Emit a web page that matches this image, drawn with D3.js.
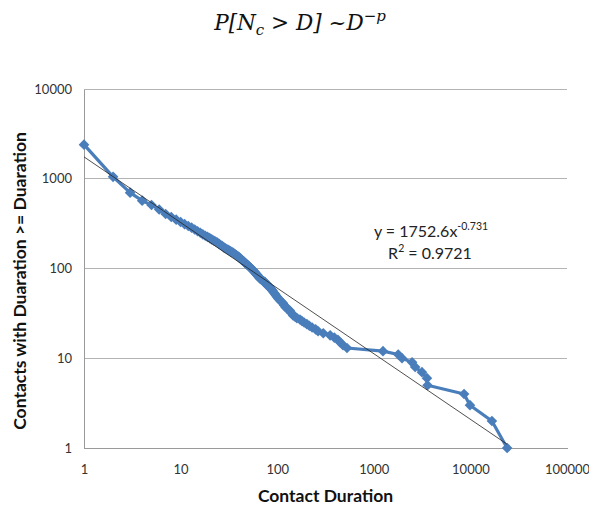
<!DOCTYPE html>
<html>
<head>
<meta charset="utf-8">
<script src="https://cdn.jsdelivr.net/npm/d3@7"></script>
<style>
  html, body { margin: 0; padding: 0; background: #fff; }
  svg { display: block; }
</style>
</head>
<body>
<svg id="chart" width="589" height="512"></svg>
<script>
// ---- data ----
const durations = [1, 2, 3, 4, 5, 6, 7, 8, 9, 10, 11, 12, 13, 14, 15, 16, 17, 18, 19, 20,
  21, 22, 23, 24, 25, 26, 27, 28, 29, 30, 31, 32, 33, 34, 35, 36, 37, 38, 39, 40,
  41, 42, 43, 44, 45, 46, 47, 48, 49, 50, 51, 52, 53, 54, 55, 56, 57, 58, 59, 60,
  61, 62, 63, 64, 65, 66, 67, 68, 69, 70, 72, 74, 75, 77, 78, 80, 82, 84, 86, 88,
  90, 92, 95, 97, 100, 103, 107, 110, 115, 118, 122, 126, 130, 135, 140, 146, 153, 160,
  172, 180, 190, 203, 215, 230, 250, 265, 300, 353, 390, 425, 450, 480, 528,
  1245, 1790, 1960, 2490, 2680, 3150, 3550, 3600, 8600, 9900, 16700, 24000];
const counts = [2400, 1050, 700, 570, 510, 455, 405, 375, 350, 330, 312, 298, 285, 272, 260, 250, 240, 232, 225, 218,
  211, 205, 200, 195, 188, 183, 178, 172, 168, 165, 161, 158, 155, 152, 150, 146, 143, 140, 137, 135,
  131, 128, 125, 122, 120, 117, 114, 112, 110, 108, 106, 104, 102, 100, 98, 96, 94, 92, 90, 88,
  86, 85, 83, 81, 80, 78, 77, 76, 75, 74, 72, 71, 70, 67, 66, 64, 63, 62, 60, 58,
  56, 54, 52, 50, 48, 46, 44, 43, 41, 39, 37, 36, 35, 34, 32, 30, 29, 28,
  27, 26, 25, 24, 23, 22, 21, 20, 19, 18, 17, 16, 15, 14, 13,
  12, 11, 10, 9, 8, 7, 6, 5, 4, 3, 2, 1];
const xTicks = [1, 10, 100, 1000, 10000, 100000];
const yTicks = [1, 10, 100, 1000, 10000];
const fitA = 1752.6;
const fitP = -0.731;
const fitR2 = "0.9721";
const fitRange = [1, 24000];
const xTitleText = "Contact Duration";
const yTitleText = "Contacts with Duaration >= Duaration";

(function () {
// ---- layout ----
const svg = d3.select("#chart");
const mLeft = 84, mRight = 567, mTop = 89, mBottom = 448;
const x = d3.scaleLog().domain([1, 100000]).range([mLeft, mRight]);
const y = d3.scaleLog().domain([1, 10000]).range([mBottom, mTop]);
const font = "Lato, 'Open Sans', sans-serif";
const blue = "#4a7ebb";

// gridlines
svg.append("g").selectAll("line").data(yTicks.filter(d => d > 1)).join("line")
  .attr("x1", mLeft).attr("x2", mRight)
  .attr("y1", d => y(d)).attr("y2", d => y(d))
  .attr("stroke", "#b3b3b3").attr("stroke-width", 1).attr("shape-rendering", "crispEdges");

// axes
const xAxis = d3.axisBottom(x).tickValues(xTicks).tickFormat(d3.format("d")).tickSize(0).tickPadding(17);
const yAxis = d3.axisLeft(y).tickValues(yTicks).tickFormat(d3.format("d")).tickSize(0).tickPadding(12);
const gx = svg.append("g").attr("transform", `translate(0,${mBottom})`).call(xAxis);
const gy = svg.append("g").attr("transform", `translate(${mLeft},0)`).call(yAxis);
[gx, gy].forEach(g => {
  g.select(".domain").attr("stroke", "#9a9a9a").attr("shape-rendering", "crispEdges");
  g.selectAll("text").attr("font-family", font).attr("font-size", 13).attr("fill", "#333");
});

const pts = durations.map((d, i) => [d, counts[i]]);

// data line
svg.append("path").datum(pts)
  .attr("d", d3.line().x(d => x(d[0])).y(d => y(d[1])))
  .attr("fill", "none").attr("stroke", blue).attr("stroke-width", 3.2).attr("stroke-linejoin", "round");

// markers
const sym = d3.symbol().type(d3.symbolDiamond2).size(72);
svg.append("g").selectAll("path").data(pts).join("path")
  .attr("transform", d => `translate(${x(d[0])},${y(d[1])})`)
  .attr("d", sym).attr("fill", blue);

// trendline
svg.append("line")
  .attr("x1", x(fitRange[0])).attr("y1", y(fitA * Math.pow(fitRange[0], fitP)))
  .attr("x2", x(fitRange[1])).attr("y2", y(fitA * Math.pow(fitRange[1], fitP)))
  .attr("stroke", "#222").attr("stroke-width", 0.8);

// equation label
const eq = svg.append("text").attr("x", 431).attr("y", 237).attr("text-anchor", "middle")
  .attr("font-family", font).attr("font-size", 16).attr("fill", "#222");
eq.append("tspan").text("y = " + fitA + "x");
eq.append("tspan").attr("dy", -7).attr("font-size", 10.5).text(String(fitP));
const r2 = svg.append("text").attr("x", 430).attr("y", 259).attr("text-anchor", "middle")
  .attr("font-family", font).attr("font-size", 16).attr("fill", "#222");
r2.append("tspan").text("R");
r2.append("tspan").attr("dy", -7).attr("font-size", 10.5).text("2");
r2.append("tspan").attr("dy", 7).text(" = " + fitR2);

// axis titles
svg.append("text").attr("x", (mLeft + mRight) / 2).attr("y", 502).attr("text-anchor", "middle")
  .attr("font-family", font).attr("font-weight", "bold").attr("font-size", 17.5).attr("fill", "#111")
  .text(xTitleText);
svg.append("text").attr("transform", `translate(26,281) rotate(-90)`)
  .attr("text-anchor", "middle")
  .attr("font-family", font).attr("font-weight", "bold").attr("font-size", 17.5).attr("fill", "#111")
  .text(yTitleText);

// chart title (math)
const t = svg.append("text").attr("x", 300).attr("y", 30).attr("text-anchor", "middle")
  .attr("font-family", "'DejaVu Serif', 'Liberation Serif', serif").attr("font-style", "italic")
  .attr("font-size", 21.5).attr("fill", "#111");
t.append("tspan").text("P[N");
t.append("tspan").attr("dy", 5).attr("font-size", 15).text("c");
t.append("tspan").attr("dy", -5).text(" > D] ~D");
t.append("tspan").attr("dy", -9).attr("font-size", 15).text("−p");
})();
</script>
</body>
</html>
